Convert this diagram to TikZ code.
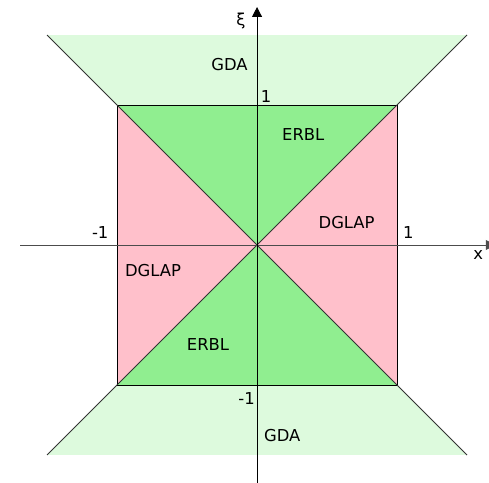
\documentclass[tikz,border=0pt]{standalone}
\usepackage{fontspec}
\setmainfont{DejaVu Sans}
\usetikzlibrary{arrows.meta}
\definecolor{gdagreen}{RGB}{221,250,221}
\definecolor{erblgreen}{RGB}{144,238,144}
\definecolor{dglappink}{RGB}{255,192,203}
\tikzset{
    region/.style={font=\fontsize{10}{12}\selectfont, inner sep=0pt},
    tick/.style={font=\fontsize{10}{12}\selectfont, inner sep=0pt}
}

\begin{document}
\begin{tikzpicture}[scale=3, line width=0.6pt]
        \useasboundingbox (-1.836,-1.70) rectangle (1.657,1.75);

        % Zones GDA
        \fill[gdagreen] (-1.5,1.5) -- (1.5,1.5) -- (1,1) -- (-1,1) -- cycle;
        \fill[gdagreen] (-1.5,-1.5) -- (1.5,-1.5) -- (1,-1) -- (-1,-1) -- cycle;

        % Zones ERBL et DGLAP
        \fill[erblgreen] (0,0) -- (-1,1) -- (1,1) -- cycle;
        \fill[erblgreen] (0,0) -- (-1,-1) -- (1,-1) -- cycle;
        \fill[dglappink] (0,0) -- (1,1) -- (1,-1) -- cycle;
        \fill[dglappink] (0,0) -- (-1,1) -- (-1,-1) -- cycle;

        % Carre et diagonales
        \draw (-1,-1) rectangle (1,1);
        \coordinate (A) at (-1.5,1.5);
        \coordinate (B) at (1.5,-1.5);
        \coordinate (C) at (-1.5,-1.5);
        \coordinate (D) at (1.5,1.5);
        \draw[black!80] (A) -- (B);
        \draw[black!80] (C) -- (D);

        % Axes
        \draw[black!70, -{Triangle[length=6pt,width=6pt]}] (-1.69,0) -- (1.705,0);
        \draw[-{Triangle[length=6pt,width=6pt]}] (0,-1.72) -- (0,1.70);
        \node[region] (xi) at (-0.114,1.60) {ξ};
        \node[region] (xl) at (1.58,-0.075) {x};

        % Unites
        \node[tick] (p1y) at (0.065,1.06) {1};
        \node[tick] (m1y) at (-0.075,-1.10) {-1};
        \node[tick] (m1x) at (-1.12,0.09) {-1};
        \node[tick] (p1x) at (1.08,0.09) {1};

        % Regions
        \node[region] (gdat) at (-0.197,1.29) {GDA};
        \node[region] (gdab) at (0.18,-1.36) {GDA};
        \node[region] (erblt) at (0.33,0.79) {ERBL};
        \node[region] (erblb) at (-0.35,-0.71) {ERBL};
        \node[region] (dglapr) at (0.64,0.16) {DGLAP};
        \node[region] (dglapl) at (-0.743,-0.18) {DGLAP};
    \end{tikzpicture}
\end{document}
